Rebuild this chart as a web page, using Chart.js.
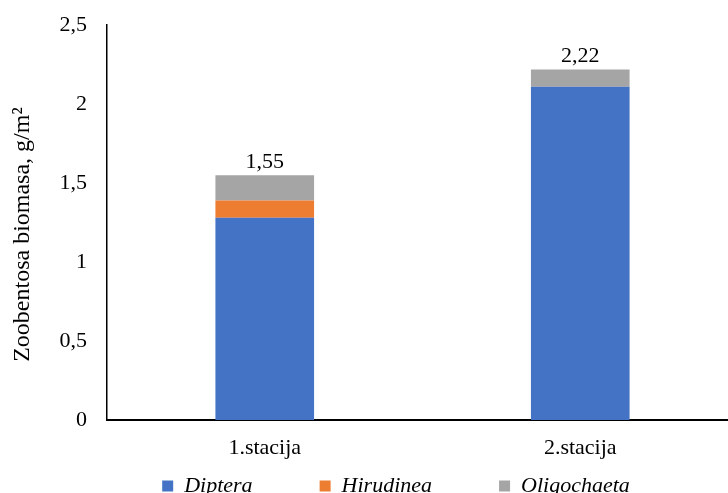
<!DOCTYPE html>
<html>
<head>
<meta charset="utf-8">
<script src="https://cdn.jsdelivr.net/npm/chart.js@4.4.0/dist/chart.umd.min.js"></script>
<style>
  html, body { margin: 0; padding: 0; background: #fff; overflow: hidden; width: 728px; height: 493px; }
  canvas { display: block; }
</style>
</head>
<body>
<canvas id="c" width="738" height="507"></canvas>
<script>
// Stations and biomass per group (g/m²)
const stations = ['1.stacija', '2.stacija'];
const groups = ['Diptera', 'Hirudinea', 'Oligochaeta'];
const diptera = [1.28, 2.11];
const hirudinea = [0.11, 0];
const oligochaeta = [0.16, 0.11];
const yTicks = [0, 0.5, 1, 1.5, 2, 2.5];

const serif = "'Liberation Serif', 'Times New Roman', serif";
const comma = v => String(v).replace('.', ',');
// wide gap after each legend entry except the last
const legendGap = '\u2003\u2003\u2002';

// Writes the station total above each stacked column
const totalLabels = {
  id: 'totalLabels',
  afterDatasetsDraw(chart) {
    const ctx = chart.ctx;
    const top = chart.getDatasetMeta(chart.data.datasets.length - 1);
    ctx.save();
    ctx.font = '22px ' + serif;
    ctx.fillStyle = '#000';
    ctx.textAlign = 'center';
    ctx.textBaseline = 'alphabetic';
    stations.forEach((s, i) => {
      const total = diptera[i] + hirudinea[i] + oligochaeta[i];
      const el = top.data[i];
      ctx.fillText(comma(total.toFixed(2)), el.x, el.y - 7);
    });
    ctx.restore();
  }
};

// Moves the legend row a little to the right, under the plot
const legendShift = {
  id: 'legendShift',
  afterLayout(chart) {
    chart.legend.left += 27;
    chart.legend.right += 27;
  }
};

new Chart(document.getElementById('c'), {
  type: 'bar',
  data: {
    labels: stations,
    datasets: [
      { label: groups[0], data: diptera, backgroundColor: '#4472C4' },
      { label: groups[1], data: hirudinea, backgroundColor: '#ED7D31' },
      { label: groups[2], data: oligochaeta, backgroundColor: '#A5A5A5' }
    ]
  },
  options: {
    responsive: false,
    animation: false,
    layout: { padding: { top: 8, left: 0, right: 0, bottom: 0 } },
    datasets: { bar: { barPercentage: 1, categoryPercentage: 0.3127 } },
    scales: {
      x: {
        stacked: true,
        afterFit: s => { s.height = 43; },
        grid: { display: false },
        border: { color: '#000', width: 2 },
        ticks: { color: '#000', font: { family: serif, size: 22 }, padding: 7 }
      },
      y: {
        stacked: true,
        min: 0,
        max: 2.5,
        afterBuildTicks: s => { s.ticks = yTicks.map(v => ({ value: v })); },
        afterFit: s => { s.width = 107; },
        grid: { display: false },
        border: { color: '#000', width: 1.5 },
        ticks: { color: '#000', font: { family: serif, size: 22 }, padding: 12, callback: v => comma(v) },
        title: {
          display: true,
          text: 'Zoobentosa biomasa, g/m²\u2003',
          color: '#000',
          font: { family: serif, size: 24 },
          padding: { top: 8, bottom: 0 }
        }
      }
    },
    plugins: {
      legend: {
        position: 'bottom',
        labels: {
          color: '#000',
          font: { family: serif, size: 22, style: 'italic' },
          boxWidth: 11,
          boxHeight: 11,
          padding: 12,
          generateLabels: chart => {
            const items = Chart.defaults.plugins.legend.labels.generateLabels(chart);
            items.forEach((it, i) => {
              it.text = groups[i] + (i < groups.length - 1 ? legendGap : '');
              it.lineWidth = 0;
            });
            return items;
          }
        }
      },
      tooltip: { enabled: false }
    }
  },
  plugins: [totalLabels, legendShift]
});
</script>
</body>
</html>
